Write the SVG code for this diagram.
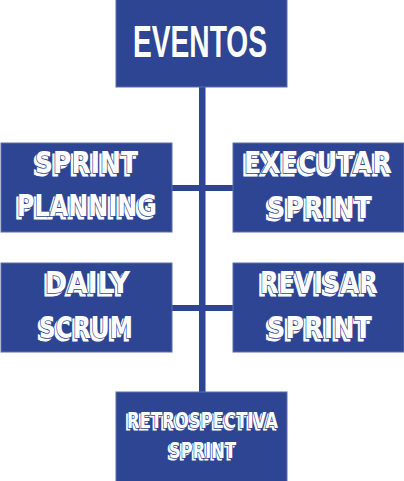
<svg xmlns="http://www.w3.org/2000/svg" xmlns:xlink="http://www.w3.org/1999/xlink" width="404" height="481" viewBox="0 0 404 481">
<style>
.box{fill:#2d4592;stroke:#5d6fae;stroke-width:1}
.line{fill:#2d4592}
.title{font-family:"Liberation Sans",Arial,sans-serif;font-weight:bold;font-size:45px;fill:#ffffff}
.blk{font-family:"DejaVu Sans","Liberation Sans",sans-serif;font-weight:bold;font-size:30px}
.sm{font-size:21px}
.sh{fill:#ffffff;stroke:#ffffff;stroke-width:1}
.face{fill:#ffffff;stroke:#2d4592;stroke-width:1.6;paint-order:stroke;stroke-linejoin:miter}
</style>
<defs>
<text id="t1" class="blk" x="35" y="173" textLength="103" lengthAdjust="spacingAndGlyphs">SPRINT</text>
<text id="t2" class="blk" x="17" y="216" textLength="140" lengthAdjust="spacingAndGlyphs">PLANNING</text>
<text id="t3" class="blk" x="244" y="173" textLength="148" lengthAdjust="spacingAndGlyphs">EXECUTAR</text>
<text id="t4" class="blk" x="267" y="218" textLength="105" lengthAdjust="spacingAndGlyphs">SPRINT</text>
<text id="t5" class="blk" x="45" y="293" textLength="85" lengthAdjust="spacingAndGlyphs">DAILY</text>
<text id="t6" class="blk" x="39" y="338" textLength="94" lengthAdjust="spacingAndGlyphs">SCRUM</text>
<text id="t7" class="blk" x="260" y="293" textLength="118" lengthAdjust="spacingAndGlyphs">REVISAR</text>
<text id="t8" class="blk" x="267" y="338" textLength="105" lengthAdjust="spacingAndGlyphs">SPRINT</text>
<text id="t9" class="blk sm" x="127" y="428" textLength="151" lengthAdjust="spacingAndGlyphs">RETROSPECTIVA</text>
<text id="t10" class="blk sm" x="169" y="458" textLength="67" lengthAdjust="spacingAndGlyphs">SPRINT</text>
</defs>
<g id="connectors">
<rect class="line" x="199" y="87" width="6.5" height="306"/>
<rect class="line" x="172" y="185" width="61" height="6"/>
<rect class="line" x="172" y="305" width="61" height="6"/>
</g>
<g id="eventos">
<rect class="box" x="116" y="-1" width="171" height="88"/>
<text class="title" x="133" y="57" textLength="134" lengthAdjust="spacingAndGlyphs">EVENTOS</text>
</g>
<g id="sprint-planning">
<rect class="box" x="1" y="143" width="171" height="89"/>
<use xlink:href="#t1" class="sh" transform="translate(-2.5,2.5)"/>
<use xlink:href="#t1" class="face"/>
<use xlink:href="#t2" class="sh" transform="translate(-2.5,2.5)"/>
<use xlink:href="#t2" class="face"/>
</g>
<g id="executar-sprint">
<rect class="box" x="233" y="143" width="171" height="89"/>
<use xlink:href="#t3" class="sh" transform="translate(-2.5,2.5)"/>
<use xlink:href="#t3" class="face"/>
<use xlink:href="#t4" class="sh" transform="translate(-2.5,2.5)"/>
<use xlink:href="#t4" class="face"/>
</g>
<g id="daily-scrum">
<rect class="box" x="1" y="263" width="171" height="89"/>
<use xlink:href="#t5" class="sh" transform="translate(-2.5,2.5)"/>
<use xlink:href="#t5" class="face"/>
<use xlink:href="#t6" class="sh" transform="translate(-2.5,2.5)"/>
<use xlink:href="#t6" class="face"/>
</g>
<g id="revisar-sprint">
<rect class="box" x="233" y="263" width="171" height="89"/>
<use xlink:href="#t7" class="sh" transform="translate(-2.5,2.5)"/>
<use xlink:href="#t7" class="face"/>
<use xlink:href="#t8" class="sh" transform="translate(-2.5,2.5)"/>
<use xlink:href="#t8" class="face"/>
</g>
<g id="retrospectiva-sprint">
<rect class="box" x="116" y="392" width="171" height="90"/>
<use xlink:href="#t9" class="sh" transform="translate(-2,2)"/>
<use xlink:href="#t9" class="face"/>
<use xlink:href="#t10" class="sh" transform="translate(-2,2)"/>
<use xlink:href="#t10" class="face"/>
</g>
</svg>
